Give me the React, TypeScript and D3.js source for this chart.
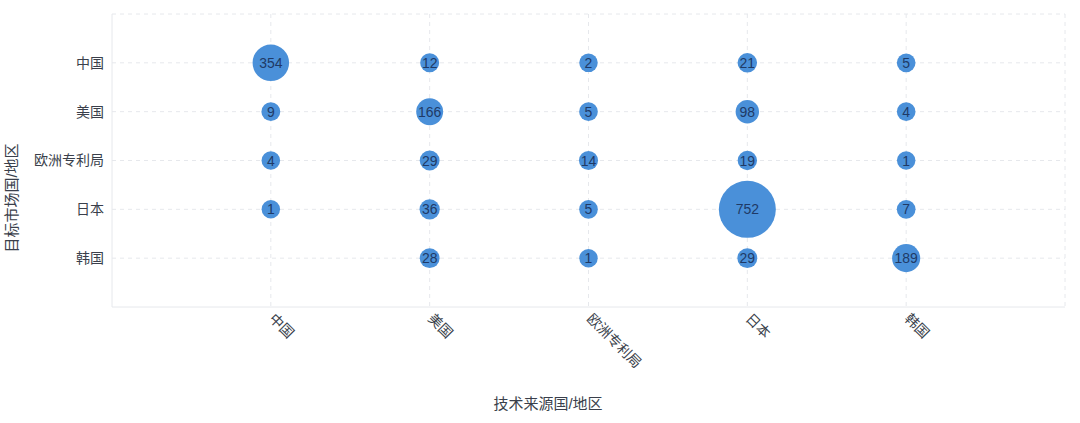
import React from "react";
import * as d3 from "d3";

const sources = ["中国", "美国", "欧洲专利局", "日本", "韩国"];
const markets = ["中国", "美国", "欧洲专利局", "日本", "韩国"];
// values[marketIndex][sourceIndex]; null = no bubble
const rowChina = [354, 12, 2, 21, 5];
const rowUSA = [9, 166, 5, 98, 4];
const rowEPO = [4, 29, 14, 19, 1];
const rowJapan = [1, 36, 5, 752, 7];
const rowKorea: (number | null)[] = [null, 28, 1, 29, 189];
const rows = [rowChina, rowUSA, rowEPO, rowJapan, rowKorea];

const W = 1080;
const H = 423;
const left = 112;
const right = 1065;
const top = 14;
const bottom = 307;
const font = "'Liberation Sans', 'Noto Sans CJK SC', sans-serif";

export default function App() {
  const x = d3.scaleLinear().domain([0, sources.length + 1]).range([left, right]);
  const y = d3.scaleLinear().domain([0, markets.length + 1]).range([top, bottom]);
  const r = d3.scaleLinear().domain([0, 752]).range([9.2, 28.5]);
  const gridX = d3.range(1, sources.length + 2);
  const gridY = d3.range(0, markets.length + 1);

  const points: { xi: number; yi: number; v: number }[] = [];
  rows.forEach((row, yi) =>
    row.forEach((v, xi) => {
      if (v !== null && v !== undefined) points.push({ xi, yi, v });
    })
  );

  return (
    <div style={{ position: "absolute", left: 0, top: 0 }}>
      <svg width={W} height={H} style={{ display: "block", fontFamily: font }}>
        <rect width={W} height={H} fill="#fff" />
        {gridY.map((i) => (
          <line key={"gy" + i} x1={left} x2={right} y1={y(i)} y2={y(i)} stroke="#e6e8ec" strokeDasharray="4,4" />
        ))}
        {gridX.map((i) => (
          <line key={"gx" + i} x1={x(i)} x2={x(i)} y1={top} y2={bottom} stroke="#e6e8ec" strokeDasharray="4,4" />
        ))}
        <line x1={left} x2={left} y1={top} y2={bottom} stroke="#e6e8ec" />
        <line x1={left} x2={right} y1={bottom} y2={bottom} stroke="#e6e8ec" />
        {markets.map((m, i) => (
          <text key={"yl" + i} x={104} y={y(i + 1)} dy="0.35em" textAnchor="end" fontSize={14} fill="#3a3f4b">
            {m}
          </text>
        ))}
        {sources.map((s, i) => (
          <text
            key={"xl" + i}
            transform={`translate(${x(i + 1) + 1},${bottom + 9}) rotate(45)`}
            dy="0.35em"
            textAnchor="start"
            fontSize={14}
            fill="#3a3f4b"
          >
            {s}
          </text>
        ))}
        {points.map((p, i) => (
          <g key={"p" + i}>
            <circle cx={x(p.xi + 1)} cy={y(p.yi + 1)} r={r(p.v)} fill="#4a90d9" />
            <text x={x(p.xi + 1)} y={y(p.yi + 1)} dy="0.36em" textAnchor="middle" fontSize={14} fill="#1f3a66">
              {p.v}
            </text>
          </g>
        ))}
        <text transform={`translate(12,198) rotate(-90)`} textAnchor="middle" dy="0.35em" fontSize={15} fill="#3a3f4b">
          目标市场国/地区
        </text>
        <text x={548} y={404} textAnchor="middle" dy="0.35em" fontSize={15} fill="#3a3f4b">
          技术来源国/地区
        </text>
      </svg>
    </div>
  );
}
